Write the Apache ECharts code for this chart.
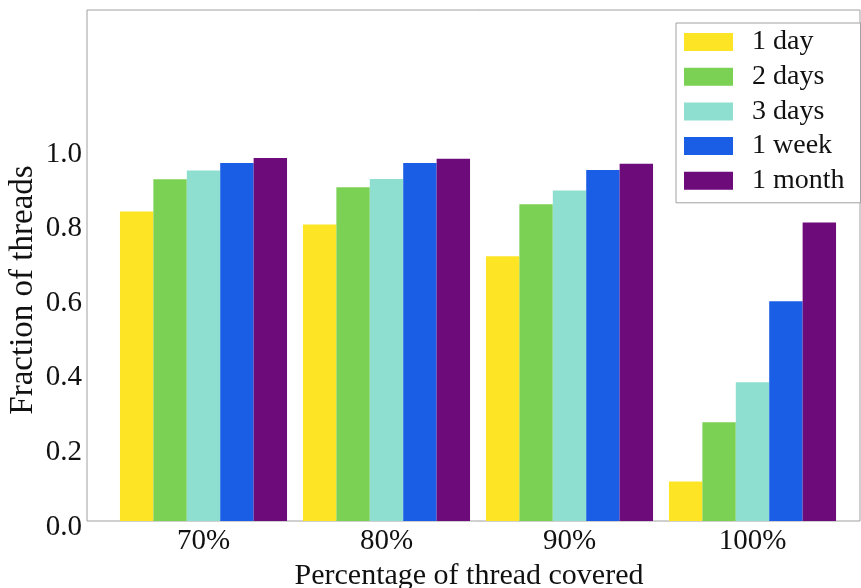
<!DOCTYPE html>
<html>
<head>
<meta charset="utf-8">
<script src="https://cdn.jsdelivr.net/npm/echarts@6/dist/echarts.min.js"></script>
<style>html,body{margin:0;padding:0;background:#fff;}#c{width:861px;height:588px;}</style>
</head>
<body>
<div id="c"></div>
<script>
const categories = ['70%', '80%', '90%', '100%'];
const seriesNames = ['1 day', '2 days', '3 days', '1 week', '1 month'];
const oneDay   = [0.830, 0.795, 0.710, 0.106];
const twoDays  = [0.916, 0.895, 0.849, 0.265];
const threeDays= [0.940, 0.917, 0.886, 0.372];
const oneWeek  = [0.960, 0.960, 0.941, 0.589];
const oneMonth = [0.973, 0.971, 0.958, 0.800];
const yTicks = [0.0, 0.2, 0.4, 0.6, 0.8, 1.0];
const colors = ['#FDE526', '#7BD153', '#8FDFD1', '#1A5EE5', '#6D0B7B'];

const allValues = [oneDay, twoDays, threeDays, oneWeek, oneMonth];
const FONT = "'Liberation Serif', 'Times New Roman', serif";
const YMAX = 1.37;

const chart = echarts.init(document.getElementById('c'), null, {renderer: 'canvas'});
chart.setOption({
  backgroundColor: '#fff',
  animation: false,
  grid: [
    {left: 87, top: 10, width: 773, height: 511, show: true, borderColor: '#a0a0a0', borderWidth: 1, backgroundColor: 'transparent'},
    {left: 112, top: 10, width: 732, height: 511, show: false},
    {left: 87, top: 16, width: 773, height: 511, show: false}
  ],
  xAxis: [
    {type: 'value', gridIndex: 0, show: false, min: 0, max: 1},
    {type: 'category', gridIndex: 1, data: categories, boundaryGap: true,
     axisLine: {show: false}, axisTick: {show: false}, splitLine: {show: false},
     axisLabel: {fontFamily: FONT, fontSize: 29, color: '#111', margin: 6}},
    {type: 'value', gridIndex: 2, show: false, min: 0, max: 1}
  ],
  yAxis: [
    {type: 'value', gridIndex: 0, min: 0, max: YMAX, show: false, splitLine: {show: false}},
    {type: 'value', gridIndex: 1, min: 0, max: YMAX, show: false, splitLine: {show: false}},
    {type: 'value', gridIndex: 2, min: 0, max: YMAX, interval: 0.2,
     axisLine: {show: false}, axisTick: {show: false}, splitLine: {show: false},
     axisLabel: {fontFamily: FONT, fontSize: 29, color: '#111', margin: 5,
       showMaxLabel: false,
       formatter: function (v) { return yTicks.some(t => Math.abs(t - v) < 1e-6) ? v.toFixed(1) : ''; }}}
  ],
  legend: {
    orient: 'vertical', left: 676, top: 23,
    data: seriesNames,
    icon: 'rect', itemWidth: 49, itemHeight: 18, itemGap: 6.7,
    padding: [5, 16, 8, 8],
    borderColor: '#a0a0a0', borderWidth: 1, backgroundColor: '#fff',
    textStyle: {fontFamily: FONT, fontSize: 28, lineHeight: 28, color: '#111', padding: [0, 0, 0, 14]}
  },
  graphic: [
    {type: 'text', x: 23, y: 290, rotation: Math.PI / 2,
     style: {text: 'Fraction of threads', font: '33px ' + FONT, fill: '#111', textAlign: 'center', textVerticalAlign: 'middle'}},
    {type: 'text', x: 469, y: 576,
     style: {text: 'Percentage of thread covered', font: '30px ' + FONT, fill: '#111', textAlign: 'center', textVerticalAlign: 'middle'}}
  ],
  series: allValues.map((vals, i) => ({
    name: seriesNames[i], type: 'bar', xAxisIndex: 1, yAxisIndex: 1,
    data: vals, barGap: '0%', barCategoryGap: '8.7%',
    itemStyle: {color: colors[i]}
  }))
});
</script>
</body>
</html>
